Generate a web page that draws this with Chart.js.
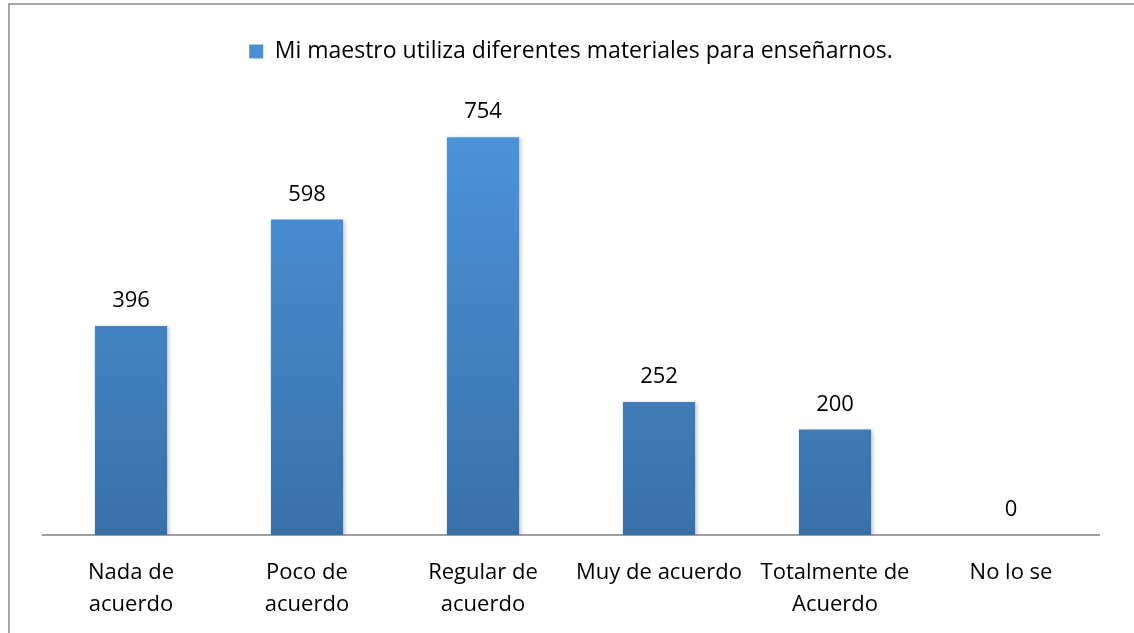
<!DOCTYPE html>
<html>
<head>
<meta charset="utf-8">
<script src="https://cdn.jsdelivr.net/npm/chart.js@4.4.1/dist/chart.umd.min.js"></script>
<style>
  html, body { margin: 0; padding: 0; background: #fff; }
  #wrap { position: relative; width: 1134px; height: 633px; }
</style>
</head>
<body>
<div id="wrap"><canvas id="chart" width="1134" height="633"></canvas></div>
<script>
// Survey answers for a single question
const categories = [['Nada de', 'acuerdo'], ['Poco de', 'acuerdo'], ['Regular de', 'acuerdo'], 'Muy de acuerdo', ['Totalmente de', 'Acuerdo'], 'No lo se'];
const seriesLabel = 'Mi maestro utiliza diferentes materiales para enseñarnos.';
const seriesValues = [396, 598, 754, 252, 200, 0];

const FONT = '"Open Sans", Lato, sans-serif';

function barGradient(ctx) {
    const area = ctx.chart.chartArea;
    if (!area) return '#4a8fd2';
    const g = ctx.chart.ctx.createLinearGradient(0, area.top, 0, area.bottom);
    g.addColorStop(0, '#4c95dc');
    g.addColorStop(1, '#3a70a8');
    return g;
}

// outer frame (only left and top edges are visible in the picture)
const framePlugin = {
    id: 'frame',
    beforeDraw(chart) {
        const c = chart.ctx;
        c.save();
        c.strokeStyle = '#a6a6a6';
        c.lineWidth = 2;
        c.beginPath();
        c.moveTo(9, 633);
        c.lineTo(9, 4);
        c.lineTo(1134, 4);
        c.stroke();
        c.restore();
    }
};

// soft shadow under the bars + value labels above them
const valueLabels = {
    id: 'valueLabels',
    beforeDatasetsDraw(chart) {
        const c = chart.ctx;
        c.save();
        c.shadowColor = 'rgba(0,0,0,0.22)';
        c.shadowBlur = 4;
        c.shadowOffsetX = 2;
        c.shadowOffsetY = 1;
    },
    afterDatasetsDraw(chart) {
        const c = chart.ctx;
        c.restore();
        const meta = chart.getDatasetMeta(0);
        c.save();
        c.font = '22px ' + FONT;
        c.fillStyle = '#000';
        c.textAlign = 'center';
        c.textBaseline = 'alphabetic';
        meta.data.forEach((bar, i) => {
            c.fillText(String(seriesValues[i]), bar.x, bar.y - 19);
        });
        c.restore();
    }
};

new Chart(document.getElementById('chart'), {
    type: 'bar',
    data: {
        labels: categories,
        datasets: [{
            label: seriesLabel,
            data: seriesValues,
            backgroundColor: barGradient,
            borderWidth: 0,
            categoryPercentage: 1,
            barPercentage: 0.41
        }]
    },
    options: {
        responsive: false,
        animation: false,
        layout: { padding: { left: 43, right: 35, top: 34, bottom: 0 } },
        plugins: {
            legend: {
                display: true,
                position: 'top',
                weight: 3000,
                labels: {
                    color: '#000',
                    font: { family: FONT, size: 23 },
                    boxWidth: 14,
                    boxHeight: 14,
                    padding: 6,
                    generateLabels(chart) {
                        return [{
                            text: seriesLabel,
                            fillStyle: '#4a8fd2',
                            strokeStyle: '#4a8fd2',
                            lineWidth: 0,
                            datasetIndex: 0
                        }];
                    }
                }
            },
            // empty subtitle used as a spacer between legend and plot
            subtitle: {
                display: true,
                text: ' ',
                weight: 500,
                font: { size: 12, lineHeight: 1 },
                padding: { top: 0, bottom: 28 }
            },
            tooltip: { enabled: false }
        },
        scales: {
            x: {
                grid: { display: false, drawTicks: false },
                border: { display: true, color: '#a0a0a0', width: 2 },
                ticks: {
                    color: '#000',
                    font: { family: FONT, size: 22, lineHeight: 1.45 },
                    padding: 22,
                    maxRotation: 0,
                    autoSkip: false
                },
                afterFit(scale) { scale.height = 98; }
            },
            y: {
                display: false,
                min: 0,
                max: 800
            }
        }
    },
    plugins: [framePlugin, valueLabels]
});
</script>
</body>
</html>
